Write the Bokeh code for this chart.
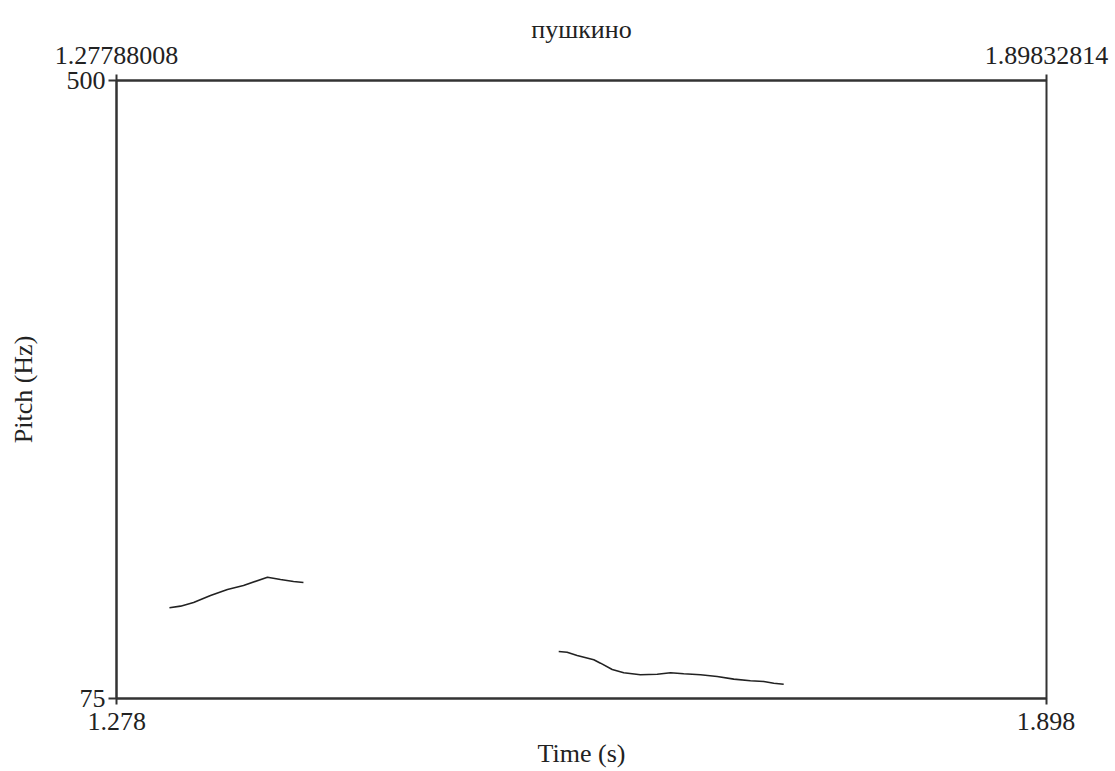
from bokeh.plotting import figure
from bokeh.models import LinearAxis, FixedTicker, PrintfTickFormatter, Range1d
from bokeh.embed import file_html
from bokeh.resources import INLINE

title_text = "пушкино"
x_label = "Time (s)"
y_label = "Pitch (Hz)"
t_start = 1.27788008
t_end = 1.89832814
f_min = 75
f_max = 500
bottom_ticks = [1.278, 1.898]
left_ticks = [75, 500]

seg1_t = [1.3132, 1.3206, 1.3293, 1.3406, 1.3519, 1.3626, 1.3786, 1.3873, 1.3960, 1.4026]
seg1_f = [137.4, 138.5, 141.0, 145.8, 150.0, 152.7, 158.4, 156.8, 155.5, 154.8]

seg2_t = [1.5729, 1.5785, 1.5852, 1.5963, 1.6008, 1.6086, 1.6163, 1.6274, 1.6386, 1.6475,
          1.6563, 1.6675, 1.6786, 1.6897, 1.7008, 1.7097, 1.7164, 1.7230]
seg2_f = [107.3, 106.8, 104.6, 101.6, 99.3, 94.9, 92.7, 91.3, 91.7, 92.7,
          92.0, 91.3, 90.1, 88.3, 87.2, 86.7, 85.5, 84.8]

FONT = "Liberation Serif"
FS = "26px"
INK = "#333333"
TXT = "#222222"

p = figure(width=1115, height=771,
           x_range=Range1d(t_start, t_end), y_range=Range1d(f_min, f_max),
           x_axis_type=None, y_axis_type=None,
           output_backend="svg", toolbar_location=None,
           min_border_left=116, min_border_right=69,
           min_border_top=80, min_border_bottom=73)
p.xgrid.visible = False
p.ygrid.visible = False
p.outline_line_color = INK
p.outline_line_width = 2
p.background_fill_color = "white"
p.border_fill_color = "white"

p.title.text = title_text
p.title.align = "center"
p.title.text_font = FONT
p.title.text_font_size = FS
p.title.text_font_style = "normal"
p.title.text_color = TXT
p.title.standoff = 0


def style(ax, tick_out, standoff):
    ax.major_tick_out = tick_out
    ax.major_tick_in = 0
    ax.minor_tick_out = 0
    ax.minor_tick_in = 0
    ax.major_tick_line_color = INK
    ax.major_tick_line_width = 2
    ax.axis_line_color = INK
    ax.axis_line_width = 2
    ax.major_label_text_font = FONT
    ax.major_label_text_font_size = FS
    ax.major_label_text_color = TXT
    ax.major_label_standoff = standoff
    ax.axis_label_text_font = FONT
    ax.axis_label_text_font_size = FS
    ax.axis_label_text_font_style = "normal"
    ax.axis_label_text_color = TXT


bottom = LinearAxis(ticker=FixedTicker(ticks=bottom_ticks),
                    formatter=PrintfTickFormatter(format="%.3f"),
                    axis_label=x_label)
style(bottom, 6, 8)
bottom.axis_label_standoff = 6
p.add_layout(bottom, "below")

left = LinearAxis(ticker=FixedTicker(ticks=left_ticks), axis_label=y_label)
style(left, 8, 3)
left.axis_label_standoff = 26
p.add_layout(left, "left")

top = LinearAxis(ticker=FixedTicker(ticks=[t_start, t_end]),
                 formatter=PrintfTickFormatter(format="%.8f"))
style(top, 6, 11)
p.add_layout(top, "above")

p.line(seg1_t, seg1_f, line_color=TXT, line_width=1.6)
p.line(seg2_t, seg2_f, line_color=TXT, line_width=1.6)

open("out.html", "w").write(file_html(p, INLINE))
